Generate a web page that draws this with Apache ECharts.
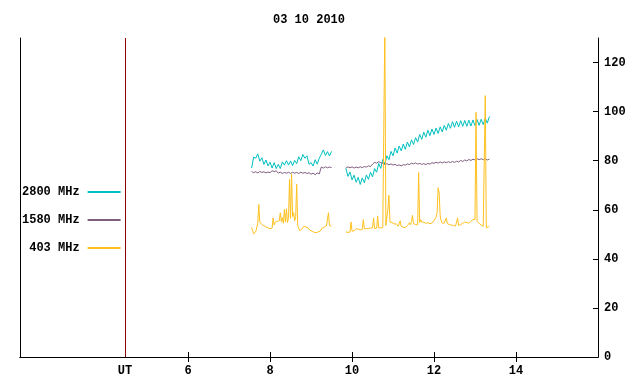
<!DOCTYPE html>
<html>
<head>
<meta charset="utf-8">
<script src="https://cdn.jsdelivr.net/npm/echarts@6/dist/echarts.min.js"></script>
<style>
  html, body { margin: 0; padding: 0; background: #fff; }
  #main { width: 640px; height: 384px; }
</style>
</head>
<body>
<div id="main"></div>
<script>
// sampling grid of the two observing runs (hours UT)
const seg1Start = 7.55;
const seg2Start = 9.85;
const slowStep = 0.05;   // 2800 / 1580 MHz
const fastStep = 0.025;  // 403 MHz

const tickValues = [6, 8, 10, 12, 14];
const utMark = 4.46;

// 2800 MHz
const f2800Seg1 = [77.0,81.5,81.0,82.8,79.8,81.2,78.5,80.3,77.9,79.4,
  77.0,79.2,76.8,78.5,76.8,79.5,78.2,80.0,78.2,79.9,
  78.0,80.1,78.8,81.6,80.0,82.5,81.0,82.0,78.5,79.2,
  77.8,80.4,78.6,81.0,82.6,84.4,82.1,83.7,81.9,83.8];
const f2800Seg2 = [76.9,73.6,75.4,72.2,74.1,71.2,73.2,70.3,73.0,71.0,
  74.2,72.4,75.3,73.4,76.8,75.3,78.9,76.9,80.5,78.6,
  82.0,80.4,83.8,82.0,85.2,83.1,86.0,84.0,86.8,84.6,
  87.6,85.6,88.5,86.6,89.4,87.6,90.7,88.7,91.6,89.6,
  92.4,90.2,92.9,90.7,93.3,91.1,93.8,91.7,94.4,92.4,
  95.2,93.2,95.9,93.6,96.1,93.8,96.3,94.0,96.4,94.0,
  96.5,94.1,96.6,94.3,96.8,94.4,96.9,94.7,97.4,95.3,98.0];

// 1580 MHz
const f1580Seg1 = [75.6,75.1,75.5,75.0,75.6,75.2,75.5,75.0,75.4,75.1,
  75.9,75.6,75.8,75.0,75.3,74.8,75.2,74.9,75.3,74.8,
  75.3,74.9,75.2,74.8,75.3,74.9,75.2,74.8,75.1,74.5,
  74.9,74.3,75.0,74.6,77.4,77.0,77.5,77.1,77.4,77.2];
const f1580Seg2 = [77.0,77.5,77.1,77.5,77.0,77.4,77.1,77.5,77.2,77.6,
  77.4,77.9,77.6,78.6,79.3,79.0,79.6,79.2,78.9,78.5,
  78.8,78.3,78.7,78.2,78.5,78.0,78.3,77.9,78.4,78.2,
  78.7,78.4,79.0,78.7,79.1,78.6,78.9,78.5,78.8,78.4,
  78.9,78.6,79.2,78.9,79.4,79.0,79.5,79.1,79.5,79.2,
  79.6,79.2,79.7,79.3,79.8,79.5,80.1,79.7,80.3,79.9,
  80.5,80.1,80.6,80.3,80.8,80.4,80.8,80.4,80.8,80.3,80.6];

// 403 MHz
const f403Seg1 = [52.8,51.5,50.2,49.8,51.0,50.5,54.5,62.2,55.0,54.6,
  54.0,54.3,53.5,53.8,53.0,53.4,52.6,52.9,52.3,51.8,
  52.5,56.7,53.8,54.9,54.2,55.3,54.6,55.5,58.8,55.2,
  56.8,54.5,60.1,55.0,60.4,54.8,57.0,72.4,56.5,74.5,
  57.2,58.8,55.5,57.0,70.4,53.5,52.4,51.5,51.2,52.0,
  52.8,53.3,52.7,53.0,52.4,52.6,52.0,51.6,51.8,51.3,
  51.0,50.8,51.2,50.7,51.3,51.0,51.6,51.3,51.7,52.6,
  52.2,53.0,52.8,53.4,53.0,58.8,53.6,54.0,53.3];
const f403Seg2 = [51.0,51.4,50.8,51.2,50.9,55.0,51.3,51.8,51.4,52.0,
  52.3,51.8,52.1,51.5,51.8,51.4,52.0,56.0,52.2,51.9,
  52.3,52.0,52.4,52.1,52.5,52.2,52.6,56.7,52.4,52.8,
  52.5,57.4,52.6,53.0,52.6,53.1,52.8,53.4,135,53.6,
  54.0,60.4,65.9,55.0,54.4,54.8,54.0,54.2,53.8,54.3,
  53.6,53.3,53.8,55.5,53.2,53.0,52.9,53.3,52.7,52.6,
  53.5,54.2,54.7,53.8,55.2,57.7,54.3,55.0,54.0,54.6,
  53.8,75.2,54.8,56.0,55.0,55.8,54.9,55.4,54.5,55.2,
  54.7,55.1,54.3,54.0,54.6,55.0,55.6,55.2,57.0,58.8,
  69.0,66.9,57.5,55.5,54.5,54.0,54.6,54.2,56.7,54.3,
  54.6,54.0,54.3,53.8,54.2,53.5,53.0,53.4,53.2,56.7,
  53.6,53.4,54.0,53.7,54.5,54.2,55.0,55.4,54.8,55.2,
  54.5,54.8,55.3,55.6,56.0,55.5,56.0,99.7,55.3,54.8,
  54.5,54.0,53.8,53.5,53.3,53.0,106.5,52.6,52.4,53.0,53.3];

const FONT = 'Liberation Mono';

// two runs joined with a gap
function runs(step, a, b) {
  const out = a.map((v, i) => [seg1Start + i * step, v]);
  out.push([9.7, '-']);
  b.forEach((v, i) => out.push([seg2Start + i * step, v]));
  return out;
}

const chart = echarts.init(document.getElementById('main'));

const labelStyle = { color: '#000', fontFamily: FONT, fontSize: 12, fontWeight: 'bold' };

const lineSeries = (name, color, data, z) => ({
  name: name,
  type: 'line',
  data: data,
  symbol: 'none',
  showSymbol: false,
  connectNulls: false,
  lineStyle: { color: color, width: 1 },
  itemStyle: { color: color },
  z: z
});

const s2800 = lineSeries('2800 MHz', '#00bfbf', runs(slowStep, f2800Seg1, f2800Seg2), 2);
s2800.markLine = {
  silent: true,
  symbol: 'none',
  label: { show: false },
  lineStyle: { color: '#8b0000', width: 1, type: 'solid' },
  data: [{ xAxis: utMark }]
};

const option = {
  backgroundColor: '#fff',
  animation: false,
  title: {
    text: '03 10 2010',
    left: 268,
    top: 9,
    textStyle: labelStyle
  },
  legend: {
    orient: 'vertical',
    left: 22,
    top: 186,
    padding: 0,
    align: 'right',
    itemWidth: 33,
    itemHeight: 14,
    itemGap: 16,
    selectedMode: false,
    itemStyle: { opacity: 0 },
    data: ['2800 MHz', '1580 MHz', '403 MHz'],
    textStyle: { color: '#000', fontFamily: FONT, fontSize: 12, fontWeight: 'bold', padding: [0, 3, 0, 0] }
  },
  grid: { left: 20, right: 42, top: 38, bottom: 27, containLabel: false, outerBoundsMode: 'none' },
  xAxis: [
    {
      type: 'value',
      position: 'bottom',
      min: 1.9,
      max: 16,
      axisLine: { lineStyle: { color: '#000', width: 1 } },
      axisTick: { inside: true, length: 5, customValues: tickValues, lineStyle: { color: '#000' } },
      axisLabel: {
        customValues: [utMark].concat(tickValues),
        margin: 8,
        formatter: v => (v < 5 ? 'UT' : String(v)),
        ...labelStyle
      },
      splitLine: { show: false }
    },
    {
      type: 'value',
      position: 'top',
      min: 1.9,
      max: 16,
      axisLine: { lineStyle: { color: '#000', width: 1 } },
      axisTick: { inside: true, length: 5, customValues: tickValues, lineStyle: { color: '#000' } },
      axisLabel: { show: false },
      splitLine: { show: false }
    }
  ],
  yAxis: [
    {
      type: 'value',
      position: 'right',
      min: 0,
      max: 130,
      interval: 20,
      axisLine: { show: true, lineStyle: { color: '#000', width: 1 } },
      axisTick: { show: true, inside: true, length: 5, lineStyle: { color: '#000' } },
      axisLabel: { margin: 6, ...labelStyle, showMaxLabel: false },
      splitLine: { show: false }
    },
    {
      type: 'value',
      position: 'left',
      min: 0,
      max: 130,
      axisLine: { show: true, lineStyle: { color: '#000', width: 1 } },
      axisTick: { show: false },
      axisLabel: { show: false },
      splitLine: { show: false }
    }
  ],
  series: [
    s2800,
    lineSeries('1580 MHz', '#7f607f', runs(slowStep, f1580Seg1, f1580Seg2), 3),
    lineSeries('403 MHz', '#ffc020', runs(fastStep, f403Seg1, f403Seg2), 4)
  ]
};

chart.setOption(option);
</script>
</body>
</html>
